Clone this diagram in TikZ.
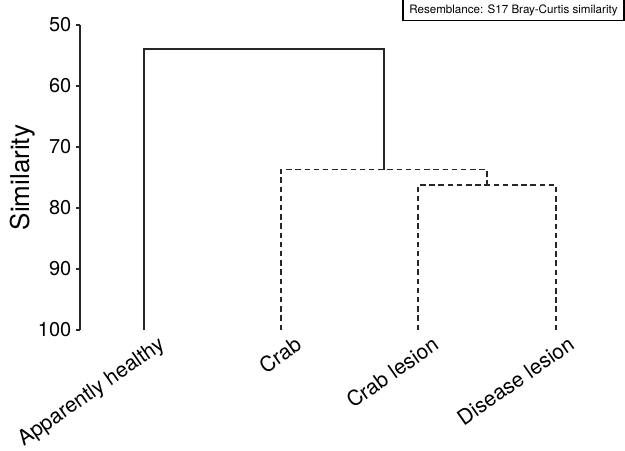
\documentclass[tikz,border=0pt]{standalone}
\usepackage{fontspec}
\setmainfont{TeX Gyre Heros}
\tikzset{
  branch/.style={line width=1.8pt, draw=black!85},
  dashbranch/.style={branch, dash pattern=on 5.5pt off 3.7pt},
  leaflabel/.style={anchor=north east, rotate=35, inner sep=0pt, font=\fontsize{21}{24}\selectfont},
  ticklabel/.style={anchor=east, inner sep=0pt, font=\fontsize{20}{24}\selectfont}
}
\begin{document}
\begin{tikzpicture}[x=1pt, y=-6.1pt]
    \useasboundingbox (0,45.902) rectangle (625,119.836);
    % y axis, similarity
    \draw[line width=1.6pt, black!85] (80,50) -- (80,100);
    \foreach \s in {50,60,...,100} {
        \draw[line width=1.6pt, black!85] (76,\s) -- (80,\s);
        \node[ticklabel] (t\s) at (71.5,\s) {\s};
    }
    \node[rotate=90, font=\fontsize{26}{30}\selectfont] (ylab) at (23,75) {Similarity};
    % leaves and merges
    \coordinate (ah) at (144,100);
    \coordinate (cr) at (281,100);
    \coordinate (cl) at (418,100);
    \coordinate (dl) at (556,100);
    \coordinate (top) at (264,53.9);
    \coordinate (mid) at (384,73.7);
    \coordinate (low) at (487,76.2);
    \draw[branch] (ah) |- (top) -| (mid);
    \draw[dashbranch] (cr) |- (mid) -| (low);
    \draw[dashbranch] (cl) |- (low) -| (dl);
    % sample names
    \node[leaflabel] (lab-ah) at (157,100.8) {Apparently healthy};
    \node[leaflabel] (lab-cr) at (294,100.8) {Crab};
    \node[leaflabel] (lab-cl) at (431,100.8) {Crab lesion};
    \node[leaflabel] (lab-dl) at (567,100.8) {Disease lesion};
    % resemblance box
    \node[draw, line width=1.2pt, minimum width=221pt, minimum height=21pt, inner sep=0pt,
          font=\fontsize{11.6}{14}\selectfont] (res) at (513.5,47.6) {Resemblance: S17 Bray-Curtis similarity};
\end{tikzpicture}
\end{document}
